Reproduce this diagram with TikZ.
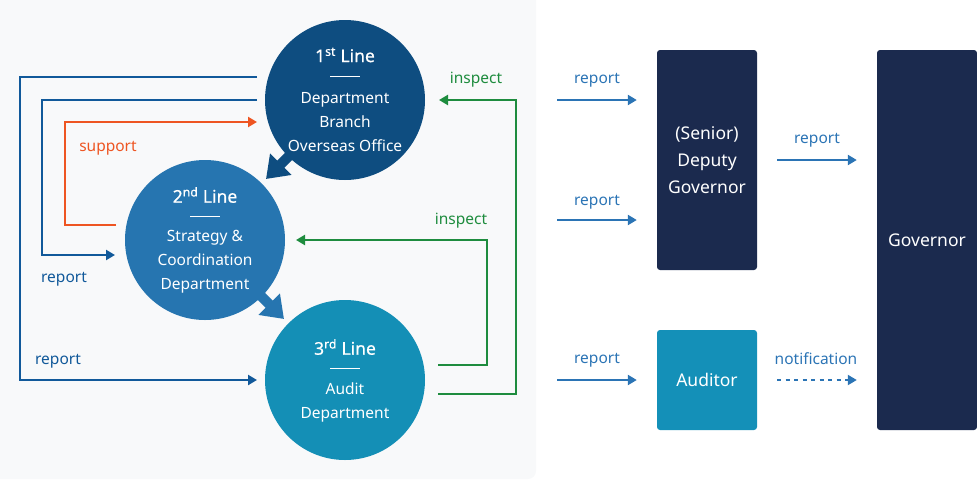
\documentclass[tikz,border=0pt]{standalone}
\usepackage{fontspec}
\setmainfont{Noto Sans}
\newfontfamily\headfont{Noto Sans}[FakeBold=0.6]
\usetikzlibrary{
arrows,
arrows.meta,
backgrounds,
calc,
positioning,
shapes
}
\tikzset{>=latex}
\definecolor{panelgray}{HTML}{F8F9FA}
\definecolor{firstline}{HTML}{0E4D80}
\definecolor{secondline}{HTML}{2675B0}
\definecolor{thirdline}{HTML}{148FB6}
\definecolor{reportblue}{HTML}{11599A}
\definecolor{supportorange}{HTML}{EE5522}
\definecolor{inspectgreen}{HTML}{1E8C3E}
\definecolor{arrowblue}{HTML}{2B74B5}
\definecolor{navy}{HTML}{1B2A4E}
\definecolor{auditteal}{HTML}{1490B8}
\tikzset{
	linecircle/.style={circle,minimum size=160pt,inner sep=0pt,outer sep=0pt},
	headtext/.style={text=white,font=\headfont\fontsize{17.5}{20}\selectfont},
	bodytext/.style={text=white,align=center,font=\fontsize{15.5}{24}\selectfont},
	sepline/.style={white,line width=1pt},
	bigarrow/.style={line width=10pt,-{Triangle[length=21pt,width=29pt]}},
	flowline/.style={line width=2.5pt,-{Triangle[length=9pt,width=10pt]}},
	flowlabel/.style={font=\fontsize{15.5}{18}\selectfont},
	officebox/.style={rounded corners=3pt,minimum width=100pt,inner sep=0pt,text=white,align=center,font=\fontsize{17.5}{27}\selectfont}
}

\begin{document}
\begin{tikzpicture}[x=1pt, y=-1pt, every node/.style={scale=1.0}]
	\useasboundingbox (0,0) rectangle (977,480);
	\fill[panelgray,rounded corners=8pt] (-20,-20) rectangle (536,479);

	\node[linecircle,fill=firstline] (c1) at (345,100) {};
	\node[linecircle,fill=secondline] (c2) at (205,240) {};
	\node[linecircle,fill=thirdline] (c3) at (345,380) {};
	\draw[bigarrow,firstline] (c1.center) -- ($(c1.center)+(-79,79)$);
	\draw[bigarrow,secondline] (c2.center) -- ($(c2.center)+(79,79)$);

	\node[headtext] (h1) at ($(c1)+(0,-45)$) {1\textsuperscript{st} Line};
	\draw[sepline] ($(c1)+(-15,-24)$) -- ($(c1)+(15,-24)$);
	\node[bodytext] (b1) at ($(c1)+(0,22)$) {Department\\Branch\\Overseas Office};
	\node[headtext] (h2) at ($(c2)+(0,-45)$) {2\textsuperscript{nd} Line};
	\draw[sepline] ($(c2)+(-15,-24)$) -- ($(c2)+(15,-24)$);
	\node[bodytext] (b2) at ($(c2)+(0,22)$) {Strategy \&\\Coordination\\Department};
	\node[headtext] (h3) at ($(c3)+(0,-33)$) {3\textsuperscript{rd} Line};
	\draw[sepline] ($(c3)+(-15,-12)$) -- ($(c3)+(15,-12)$);
	\node[bodytext] (b3) at ($(c3)+(0,22)$) {Audit\\Department};

	\draw[flowline,reportblue] ($(c1.west)+(-8,-23)$) -| (20,380) -- ($(c3.west)+(-8,0)$);
	\draw[flowline,reportblue] ($(c1.west)+(-8,0)$) -| (42,255) -- ($(c2.west)+(-10,15)$);
	\draw[flowline,supportorange] ($(c2.west)+(-9,-15)$) -| (65,122) -- ($(c1.west)+(-8,22)$);
	\draw[flowline,inspectgreen] ($(c3.east)+(13,-15)$) -| (487,240) -- ($(c2.east)+(11,0)$);
	\draw[flowline,inspectgreen] ($(c3.east)+(13,14)$) -| (516,100) -- ($(c1.east)+(14,0)$);
	\node[flowlabel,text=reportblue] (lrep1) at (64,279) {report};
	\node[flowlabel,text=reportblue] (lrep2) at (58,361) {report};
	\node[flowlabel,text=supportorange] (lsup) at (108,148) {support};
	\node[flowlabel,text=inspectgreen] (lins1) at (476,80) {inspect};
	\node[flowlabel,text=inspectgreen] (lins2) at (461,221) {inspect};

	\node[officebox,fill=navy,minimum height=220pt] (deputy) at (707,160) {(Senior)\\Deputy\\Governor};
	\node[officebox,fill=auditteal,minimum height=100pt] (auditor) at (707,380) {Auditor};
	\node[officebox,fill=navy,minimum height=380pt] (governor) at (927,240) {Governor};

	\coordinate (in1) at (557,100);
	\coordinate (in2) at (557,220);
	\coordinate (in3) at (557,380);
	\coordinate (out1) at ($(deputy.east)+(20,0)$);
	\coordinate (out2) at ($(auditor.east)+(20,0)$);
	\draw[flowline,arrowblue] (in1) -- ($(deputy.west |- in1)+(-20,0)$);
	\draw[flowline,arrowblue] (in2) -- ($(deputy.west |- in2)+(-20,0)$);
	\draw[flowline,arrowblue] (in3) -- ($(auditor.west)+(-20,0)$);
	\draw[flowline,arrowblue] (out1) -- ($(governor.west |- out1)+(-20,0)$);
	\draw[flowline,arrowblue,line width=2pt,dash pattern=on 4pt off 4.5pt] (out2) -- ($(governor.west |- out2)+(-20,0)$);
	\node[flowlabel,text=arrowblue] (rrep1) at (597,80) {report};
	\node[flowlabel,text=arrowblue] (rrep2) at (597,202) {report};
	\node[flowlabel,text=arrowblue] (rrep3) at (597,360) {report};
	\node[flowlabel,text=arrowblue] (rrep4) at (817,140) {report};
	\node[flowlabel,text=arrowblue] (rnot) at (816,359) {notification};
\end{tikzpicture}
\end{document}
